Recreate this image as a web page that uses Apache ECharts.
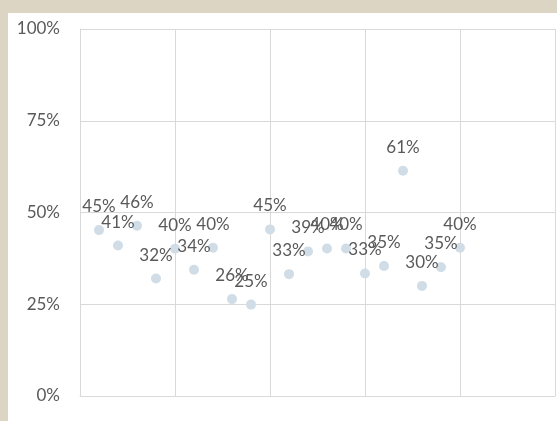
<!DOCTYPE html>
<html>
<head>
<meta charset="utf-8">
<script src="https://cdn.jsdelivr.net/npm/echarts@6/dist/echarts.min.js"></script>
<style>
  html, body { margin: 0; padding: 0; background: #ddd5c3; }
  #chart {
    position: absolute;
    left: 8px;
    top: 13px;
    width: 549px;
    height: 408px;
    background: #ffffff;
  }
</style>
</head>
<body>
<div id="chart"></div>
<script>
// x position of each point (1..20) and its share
var xValues = [1, 2, 3, 4, 5, 6, 7, 8, 9, 10, 11, 12, 13, 14, 15, 16, 17, 18, 19, 20];
var shares = [45.2, 41.0, 46.4, 32.0, 40.1, 34.4, 40.4, 26.4, 24.9, 45.4,
              33.2, 39.4, 40.2, 40.2, 33.4, 35.4, 61.4, 30.0, 35.1, 40.4];
var yTicks = [0, 25, 50, 75, 100];

var chart = echarts.init(document.getElementById("chart"));

var points = [];
xValues.forEach(function (x, i) {
  points.push([x, shares[i]]);
});

var gridColor = "#d9d9d9";
var textColor = "#595959";

var option = {
  animation: false,
  grid: {
    left: 72,
    right: 2,
    top: 16,
    bottom: 25
  },
  xAxis: {
    type: "value",
    min: 0,
    max: 25,
    interval: 5,
    axisLabel: { show: false },
    axisTick: { show: false },
    axisLine: { show: true, lineStyle: { color: gridColor, width: 1 } },
    splitLine: { show: true, lineStyle: { color: gridColor, width: 1 } }
  },
  yAxis: {
    type: "value",
    min: yTicks[0],
    max: yTicks[yTicks.length - 1],
    interval: 25,
    axisTick: { show: false },
    axisLine: { show: true, lineStyle: { color: gridColor, width: 1 } },
    splitLine: { show: true, lineStyle: { color: gridColor, width: 1 } },
    axisLabel: {
      color: textColor,
      fontFamily: "Lato",
      fontSize: 17,
      margin: 20,
      formatter: "{value}%"
    }
  },
  series: [
    {
      type: "scatter",
      data: points,
      symbolSize: 10,
      itemStyle: { color: "#d0dde7", opacity: 1 },
      label: {
        show: true,
        position: "top",
        distance: 10,
        color: textColor,
        fontFamily: "Lato",
        fontSize: 17,
        formatter: function (p) {
          return Math.round(p.value[1]) + "%";
        }
      },
      labelLayout: { hideOverlap: false }
    }
  ]
};

chart.setOption(option);
</script>
</body>
</html>
